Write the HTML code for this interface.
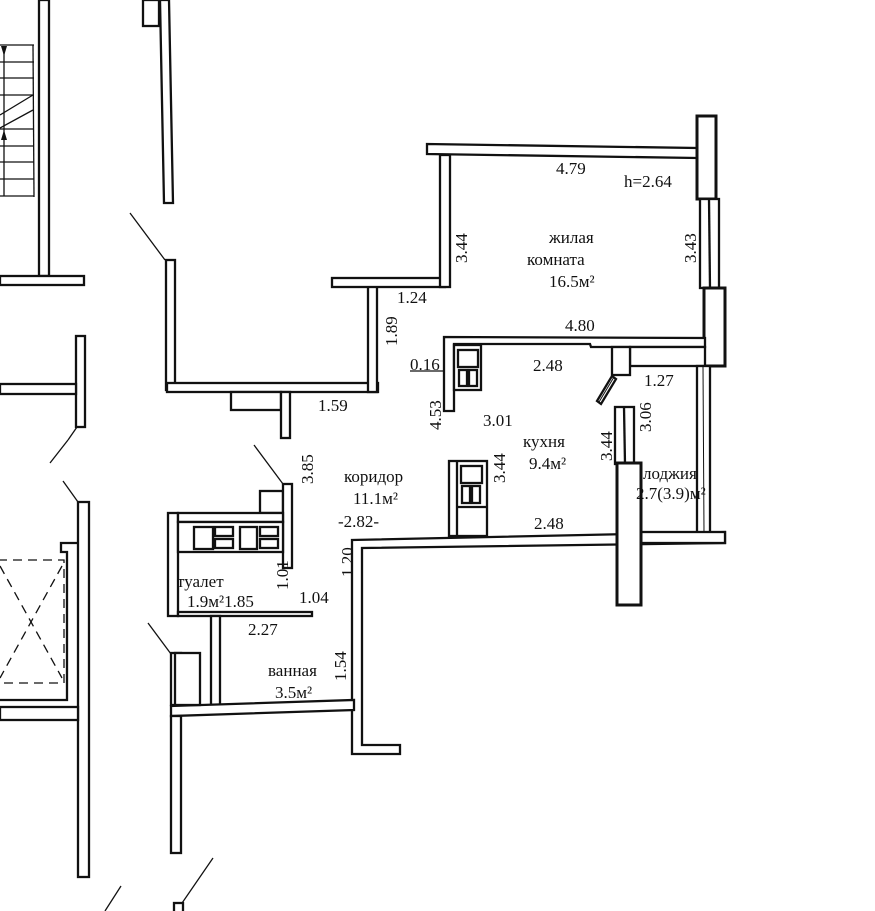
<!DOCTYPE html>
<html><head><meta charset="utf-8"><style>
html,body{margin:0;padding:0;background:#fff;}
svg{display:block;}
text{font-family:"Liberation Serif","DejaVu Serif",serif;font-size:17px;fill:#111;}
</style></head><body>
<svg width="875" height="911" viewBox="0 0 875 911" xmlns="http://www.w3.org/2000/svg">
<g fill="#fff" stroke="#111" stroke-width="2.3">
<g stroke-width="1.3">
<line x1="0" y1="45" x2="34" y2="45"/><line x1="0" y1="62" x2="34" y2="62"/><line x1="0" y1="78" x2="34" y2="78"/><line x1="0" y1="95" x2="34" y2="95"/>
<line x1="0" y1="129" x2="34" y2="129"/><line x1="0" y1="146" x2="34" y2="146"/><line x1="0" y1="162" x2="34" y2="162"/><line x1="0" y1="179" x2="34" y2="179"/><line x1="0" y1="196" x2="34" y2="196"/>
<line x1="33" y1="45" x2="34" y2="197"/>
<line x1="0" y1="115" x2="33" y2="95"/><line x1="0" y1="128" x2="33" y2="110"/>
<line x1="4" y1="48" x2="4" y2="196"/>
</g>
<polygon points="1,46 4,56 7,46" fill="#111" stroke="none"/>
<polygon points="1,140 4,130 7,140" fill="#111" stroke="none"/>
<rect x="39" y="0" width="10" height="276"/>
<rect x="0" y="276" width="84" height="9"/>
<rect x="143" y="0" width="16" height="26"/>
<polygon points="160,0 169,0 173,203 164,203"/>
<line x1="130" y1="213" x2="165" y2="260" stroke-width="1.3"/>
<rect x="166" y="260" width="9" height="130"/>
<rect x="167" y="383" width="211" height="9"/>
<rect x="368" y="286" width="9" height="106"/>
<rect x="332" y="278" width="113" height="9"/>
<rect x="231" y="392" width="50" height="18"/>
<rect x="281" y="392" width="9" height="46"/>
<rect x="76" y="336" width="9" height="91"/>
<rect x="0" y="384" width="76" height="10"/>
<line x1="68" y1="440" x2="77" y2="427" stroke-width="1.3"/>
<polygon points="427,144 697,148 697,158 427,154"/>
<rect x="440" y="155" width="10" height="132"/>
<rect x="697" y="116" width="19" height="83" stroke-width="3"/>
<rect x="700" y="199" width="19" height="89"/><line x1="709" y1="199" x2="710" y2="288"/>
<rect x="704" y="288" width="21" height="78" stroke-width="3"/>
<polygon points="444,337 705,338 705,347 591,347 590,344 454,344 454,411 444,411"/>
<rect x="630" y="347" width="75" height="19"/>
<rect x="612" y="347" width="18" height="28"/>
<polygon points="597,401 612,376 616,379 601,404"/>
<line x1="599" y1="402" x2="614" y2="377" stroke-width="1"/>
<rect x="697" y="366" width="13" height="167"/><line x1="703" y1="366" x2="704" y2="533" stroke-width="1"/>
<rect x="454" y="345" width="27" height="45"/>
<rect x="458" y="350" width="20" height="17"/><rect x="459" y="370" width="8" height="16"/><rect x="469" y="370" width="8" height="16"/>
<line x1="410" y1="371" x2="444" y2="371" stroke-width="1.3"/>
<rect x="449" y="461" width="38" height="75"/><line x1="457" y1="461" x2="457" y2="536"/>
<rect x="461" y="466" width="21" height="17"/><rect x="462" y="486" width="8" height="17"/><rect x="472" y="486" width="8" height="17"/>
<line x1="457" y1="507" x2="487" y2="507"/>
<rect x="615" y="407" width="19" height="57"/><line x1="624" y1="407" x2="625" y2="464"/>
<polygon points="352,540 725,532 725,543 362,548 362,745 400,745 400,754 352,754"/>
<rect x="640" y="532" width="85" height="11"/>
<rect x="617" y="463" width="24" height="142" stroke-width="3"/>
<rect x="260" y="491" width="23" height="22"/>
<rect x="283" y="484" width="9" height="84"/>
<line x1="254" y1="445" x2="283" y2="484" stroke-width="1.3"/>
<rect x="168" y="513" width="10" height="103"/>
<rect x="178" y="513" width="105" height="9"/>
<rect x="178" y="522" width="105" height="30"/>
<rect x="194" y="527" width="19" height="22"/><rect x="215" y="527" width="18" height="9"/><rect x="215" y="539" width="18" height="9"/>
<rect x="240" y="527" width="17" height="22"/><rect x="260" y="527" width="18" height="9"/><rect x="260" y="539" width="18" height="9"/>
<rect x="178" y="612" width="134" height="4"/>
<rect x="211" y="616" width="9" height="89"/>
<polygon points="171,706 354,700 354,710 171,716"/>
<rect x="171" y="716" width="10" height="137"/>
<rect x="171" y="653" width="10" height="52"/>
<rect x="175" y="653" width="25" height="52"/>
<line x1="148" y1="623" x2="171" y2="654" stroke-width="1.3"/>
<rect x="78" y="502" width="11" height="375"/>
<line x1="63" y1="481" x2="78" y2="502" stroke-width="1.3"/>
<line x1="50" y1="463" x2="68" y2="440" stroke-width="1.3"/>
<polyline points="78,543 61,543 61,552 67,552 67,700 0,700" fill="none"/>
<rect x="0" y="707" width="78" height="13"/>
<g stroke-width="1.3" stroke-dasharray="9,6" fill="none">
<rect x="-2" y="560" width="66" height="123"/>
<line x1="0" y1="566" x2="62" y2="678"/><line x1="62" y1="566" x2="0" y2="678"/>
</g>
<line x1="105" y1="911" x2="121" y2="886" stroke-width="1.3"/>
<line x1="180" y1="906" x2="213" y2="858" stroke-width="1.3"/>
<rect x="174" y="903" width="9" height="10"/>
</g>
<text x="556" y="174">4.79</text>
<text x="624" y="187">h=2.64</text>
<text x="549" y="243">жилая</text>
<text x="527" y="265">комната</text>
<text x="549" y="287">16.5м²</text>
<text x="397" y="303">1.24</text>
<text x="565" y="331">4.80</text>
<text x="410" y="370">0.16</text>
<text x="533" y="371">2.48</text>
<text x="644" y="386">1.27</text>
<text x="318" y="411">1.59</text>
<text x="483" y="426">3.01</text>
<text x="523" y="447">кухня</text>
<text x="529" y="469">9.4м²</text>
<text x="643" y="479">лоджия</text>
<text x="636" y="499">2.7(3.9)м²</text>
<text x="344" y="482">коридор</text>
<text x="353" y="504">11.1м²</text>
<text x="338" y="527">-2.82-</text>
<text x="534" y="529">2.48</text>
<text x="177" y="587">туалет</text>
<text x="187" y="607">1.9м²1.85</text>
<text x="299" y="603">1.04</text>
<text x="248" y="635">2.27</text>
<text x="268" y="676">ванная</text>
<text x="275" y="698">3.5м²</text>
<text transform="translate(467,263) rotate(-90)">3.44</text>
<text transform="translate(696,263) rotate(-90)">3.43</text>
<text transform="translate(397,346) rotate(-90)">1.89</text>
<text transform="translate(441,430) rotate(-90)">4.53</text>
<text transform="translate(651,432) rotate(-90)">3.06</text>
<text transform="translate(612,461) rotate(-90)">3.44</text>
<text transform="translate(505,483) rotate(-90)">3.44</text>
<text transform="translate(313,484) rotate(-90)">3.85</text>
<text transform="translate(288,590) rotate(-90)">1.01</text>
<text transform="translate(353,577) rotate(-90)">1.20</text>
<text transform="translate(346,681) rotate(-90)">1.54</text>
</svg>
</body></html>
